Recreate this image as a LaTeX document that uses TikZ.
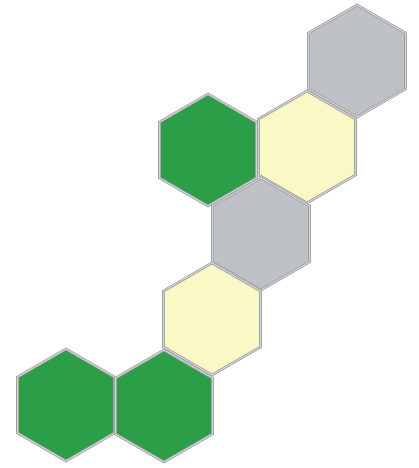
\documentclass[tikz,border=0pt]{standalone}
\usetikzlibrary{shapes.geometric}
\definecolor{hexgreen}{RGB}{44,158,72}
\definecolor{hexyellow}{RGB}{250,248,196}
\definecolor{hexgray}{RGB}{190,194,199}
\definecolor{hexedge}{RGB}{158,160,162}
\tikzset{
  hex/.style={regular polygon, regular polygon sides=6, regular polygon rotate=30,
    minimum size=112pt, inner sep=0pt, draw=hexedge, line width=0.8pt,
    double=hexedge!45, double distance=1pt},
}
\begin{document}
\begin{tikzpicture}[x=1pt, y=-1pt]
	\useasboundingbox (0,0) rectangle (418,468) ;
		\node (graytop)[hex, fill=hexgray] at (357, 61) {} ;
		\node (greentop)[hex, fill=hexgreen] at (208, 150) {} ;
		\node (yellowtop)[hex, fill=hexyellow] at (307, 147) {} ;
		\node (graymid)[hex, fill=hexgray] at (261, 234) {} ;
		\node (yellowlow)[hex, fill=hexyellow] at (212, 319) {} ;
		\node (greenleft)[hex, fill=hexgreen] at (66, 405) {} ;
		\node (greenright)[hex, fill=hexgreen] at (164, 406) {} ;
\end{tikzpicture}
\end{document}
